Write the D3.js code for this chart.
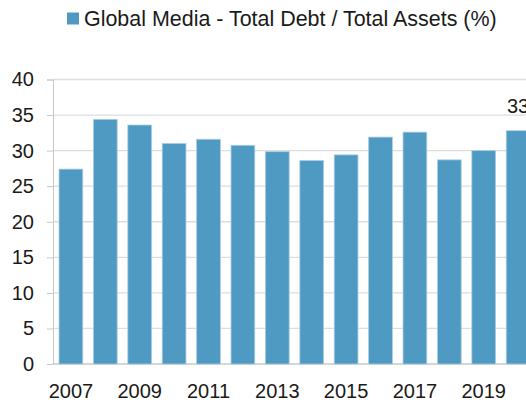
<!DOCTYPE html>
<html>
<head>
<meta charset="utf-8">
<script src="https://cdn.jsdelivr.net/npm/d3@7"></script>
<style>
  html, body { margin: 0; padding: 0; background: #fff; }
  svg { display: block; }
  text { font-family: "Liberation Sans", Arial, sans-serif; fill: #1a1a1a; }
</style>
</head>
<body>
<svg id="chart" width="526" height="403"></svg>
<script>
const years = [2007, 2008, 2009, 2010, 2011, 2012, 2013, 2014, 2015, 2016, 2017, 2018, 2019, 2020];
const debtToAssets = [27.4, 34.4, 33.6, 31.0, 31.6, 30.75, 29.85, 28.6, 29.4, 31.9, 32.6, 28.7, 30.0, 32.8];
const yTicks = [0, 5, 10, 15, 20, 25, 30, 35, 40];
const xTickYears = [2007, 2009, 2011, 2013, 2015, 2017, 2019];
const seriesName = "Global Media - Total Debt / Total Assets (%)";
const labelledYears = [2020];

const svg = d3.select("#chart");
const mLeft = 53, mRight = 536, mTop = 79.5, mBottom = 364;

const x = d3.scaleBand().domain(years).range([mLeft, mRight]).paddingInner(0.31).paddingOuter(0.175);
const y = d3.scaleLinear().domain([0, 40]).range([mBottom, mTop]);

// gridlines
svg.append("g").selectAll("line").data(yTicks.filter(d => d > 0)).join("line")
  .attr("x1", mLeft).attr("x2", 526)
  .attr("y1", d => y(d)).attr("y2", d => y(d))
  .attr("stroke", "#dddddd").attr("stroke-width", 1.3);

// y axis
const yAxis = d3.axisLeft(y).tickValues(yTicks).tickSize(6).tickPadding(13).tickFormat(d3.format("d"));
const gy = svg.append("g").attr("transform", `translate(${mLeft},0)`).call(yAxis);
gy.select(".domain").attr("stroke", "#c8c8c8");
gy.selectAll(".tick line").attr("stroke", "#c8c8c8");
gy.selectAll(".tick text").attr("font-size", 20).attr("fill", "#1a1a1a")
  .style("font-family", '"Liberation Sans", Arial, sans-serif');

// baseline
svg.append("line").attr("x1", mLeft).attr("x2", 526).attr("y1", y(0)).attr("y2", y(0))
  .attr("stroke", "#c8c8c8").attr("stroke-width", 1.3);

// bars
svg.append("g").selectAll("rect").data(years).join("rect")
  .attr("x", d => x(d))
  .attr("width", x.bandwidth())
  .attr("y", (d, i) => y(debtToAssets[i]))
  .attr("height", (d, i) => y(0) - y(debtToAssets[i]))
  .attr("fill", "#4e9ac2")
  .attr("stroke", "#a9cde2").attr("stroke-width", 0.8);

// x axis labels
const xAxis = d3.axisBottom(x).tickValues(xTickYears).tickSize(0).tickPadding(20);
const gx = svg.append("g").attr("transform", `translate(0,${mBottom})`).call(xAxis);
gx.select(".domain").remove();
gx.selectAll(".tick text").attr("font-size", 20).attr("fill", "#1a1a1a")
  .style("font-family", '"Liberation Sans", Arial, sans-serif');

// value labels
svg.append("g").selectAll("text").data(labelledYears).join("text")
  .attr("x", d => x(d) + x.bandwidth() / 2)
  .attr("y", d => y(debtToAssets[years.indexOf(d)]) - 18)
  .attr("text-anchor", "middle").attr("font-size", 20)
  .text(d => d3.format(".0f")(debtToAssets[years.indexOf(d)]));

// legend
const lg = svg.append("g");
lg.append("rect").attr("x", 67).attr("y", 12.5).attr("width", 12).attr("height", 12).attr("fill", "#4e9ac2");
const lt = lg.append("text").attr("x", 84).attr("y", 25.5).attr("font-size", 20).text(seriesName);
const w = lt.node().getComputedTextLength();
lt.attr("font-size", 20 * 413 / w);
</script>
</body>
</html>
